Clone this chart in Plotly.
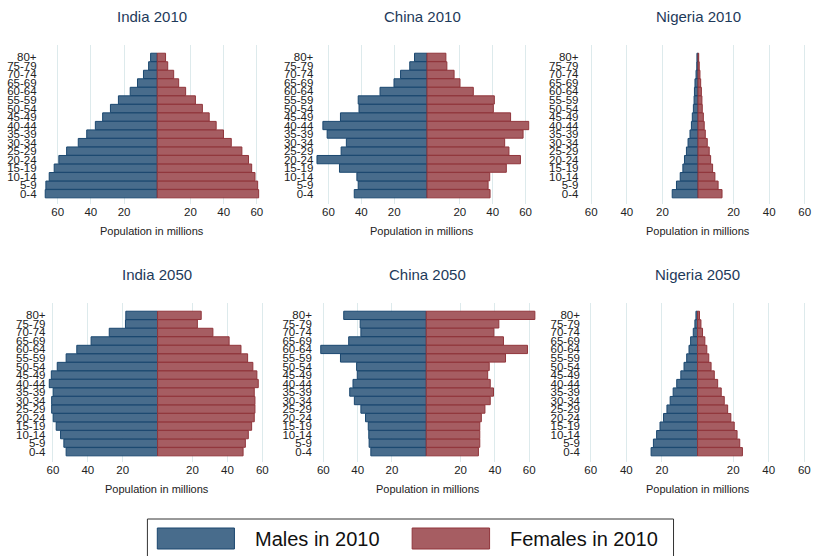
import plotly.graph_objects as go

# ---------------- data (millions) ----------------
age_groups = ["0-4", "5-9", "10-14", "15-19", "20-24", "25-29", "30-34", "35-39",
              "40-44", "45-49", "50-54", "55-59", "60-64", "65-69", "70-74", "75-79", "80+"]

india_2010_male = [67.5, 67.1, 65.1, 62.1, 59.3, 54.6, 47.6, 42.5, 37.3, 32.9, 28.2, 23.4, 16.3, 11.9, 8.3, 5.2, 4.0]
india_2010_female = [61.1, 60.5, 58.9, 56.9, 55.0, 51.0, 44.6, 39.9, 35.5, 31.3, 27.2, 23.0, 17.1, 12.9, 9.9, 6.3, 5.0]

china_2010_male = [44.3, 41.9, 42.7, 53.3, 67.0, 52.3, 49.1, 60.8, 63.4, 52.7, 41.4, 41.9, 28.6, 20.1, 16.1, 10.5, 7.6]
china_2010_female = [38.4, 37.2, 38.2, 48.3, 56.9, 49.9, 47.3, 58.5, 62.0, 50.9, 40.4, 41.0, 28.2, 20.1, 16.5, 12.1, 11.5]

nigeria_2010_male = [14.5, 12.1, 10.0, 8.5, 7.6, 6.5, 5.6, 4.5, 3.7, 3.2, 2.6, 2.2, 2.0, 1.7, 1.1, 0.7, 0.6]
nigeria_2010_female = [13.5, 11.3, 9.5, 8.2, 7.1, 6.3, 5.2, 4.1, 3.5, 3.0, 2.4, 2.2, 1.9, 1.5, 1.1, 0.7, 0.4]

india_2050_male = [52.4, 53.7, 55.6, 58.1, 59.8, 60.7, 60.7, 59.8, 62.2, 60.9, 57.5, 52.4, 46.3, 38.1, 27.7, 18.4, 18.2]
india_2050_female = [49.0, 50.3, 52.0, 53.9, 55.4, 55.8, 55.8, 55.4, 57.7, 56.9, 54.6, 51.6, 47.8, 41.0, 31.7, 22.8, 25.0]

china_2050_male = [32.3, 33.3, 33.5, 33.8, 35.4, 38.1, 41.9, 44.6, 42.7, 40.2, 40.6, 50.0, 61.5, 45.2, 38.1, 38.5, 48.1]
china_2050_female = [30.4, 31.2, 31.2, 31.2, 32.1, 34.2, 37.3, 39.2, 37.3, 35.8, 36.7, 46.2, 59.0, 45.0, 39.4, 42.3, 63.3]

nigeria_2050_male = [26.1, 24.8, 23.0, 21.1, 19.1, 17.2, 15.4, 13.7, 11.7, 9.4, 7.6, 6.1, 4.8, 3.9, 2.4, 1.5, 0.9]
nigeria_2050_female = [25.2, 23.7, 22.2, 20.6, 18.7, 16.9, 15.0, 13.3, 11.3, 9.4, 7.6, 6.3, 5.2, 4.1, 2.8, 1.9, 1.1]

panel_titles = ["India 2010", "China 2010", "Nigeria 2010", "India 2050", "China 2050", "Nigeria 2050"]
x_tick_values = [-60, -40, -20, 20, 40, 60]
x_tick_labels = ["60", "40", "20", "20", "40", "60"]
x_axis_title = "Population in millions"
legend_labels = ["Males in 2010", "Females in 2010"]

# ---------------- styling / layout ----------------
W, H = 814, 556
MALE_FILL, MALE_LINE = "#486C8C", "#1A476F"
FEMALE_FILL, FEMALE_LINE = "#A65D62", "#90353B"
GRID = "#DDEAEC"
TITLE_COLOR = "#1E3A5A"
FONT = "Liberation Sans, Arial, sans-serif"


def fx(px):
    return px / W


def fy(py):
    return 1 - py / H


male_data = [india_2010_male, china_2010_male, nigeria_2010_male,
             india_2050_male, china_2050_male, nigeria_2050_male]
female_data = [india_2010_female, china_2010_female, nigeria_2010_female,
               india_2050_female, china_2050_female, nigeria_2050_female]

# pixel plot areas: (x0, x1), x-range, row, y-label standoff
panel_px = [((39, 258), (-68.5, 62), 0, 6),
            ((313.8, 530.5), (-68, 62.5), 0, 1),
            ((591, 810.5), (-61, 61), 0, 10),
            ((44, 262.8), (-62.5, 61.5), 1, 2),
            ((318.4, 537), (-62, 64), 1, 7),
            ((590.5, 810.1), (-61, 61), 1, 8)]
row_py = [(45, 203.5), (303, 461.5)]

fig = go.Figure()
annotations = []
layout_axes = {}

for i, ((x0, x1), xr, row, ystand) in enumerate(panel_px):
    n = "" if i == 0 else str(i + 1)
    xa, ya = "x" + n, "y" + n
    fig.add_trace(go.Bar(
        y=age_groups, x=[-v for v in male_data[i]], orientation="h",
        name=legend_labels[0], xaxis=xa, yaxis=ya, showlegend=False,
        marker=dict(color=MALE_FILL, line=dict(color=MALE_LINE, width=1)),
    ))
    fig.add_trace(go.Bar(
        y=age_groups, x=female_data[i], orientation="h",
        name=legend_labels[1], xaxis=xa, yaxis=ya, showlegend=False,
        marker=dict(color=FEMALE_FILL, line=dict(color=FEMALE_LINE, width=1)),
    ))
    py0, py1 = row_py[row]
    layout_axes["xaxis" + n] = dict(
        domain=[fx(x0), fx(x1)], range=list(xr), anchor=ya,
        tickmode="array", tickvals=x_tick_values, ticktext=x_tick_labels,
        showgrid=True, gridcolor=GRID, gridwidth=1, zeroline=False,
        showline=False, ticks="", tickfont=dict(size=11.5, color="#222", family=FONT),
        fixedrange=True,
    )
    layout_axes["yaxis" + n] = dict(
        domain=[fy(py1), fy(py0)], anchor=xa, type="category",
        tickmode="array", tickvals=age_groups, ticktext=age_groups,
        range=[-1.15, 17.45], showgrid=False, zeroline=False, showline=False,
        ticks="", tickfont=dict(size=11.5, color="#222", family=FONT),
        ticklabelstandoff=ystand, fixedrange=True,
    )
    cx = fx((x0 + x1) / 2)
    annotations.append(dict(text=panel_titles[i], x=cx, y=fy(py0 - 28.5), xref="paper", yref="paper",
                            xanchor="center", yanchor="middle", showarrow=False,
                            font=dict(size=15, color=TITLE_COLOR, family=FONT)))
    annotations.append(dict(text=x_axis_title, x=cx, y=fy(py1 + 27.5), xref="paper", yref="paper",
                            xanchor="center", yanchor="middle", showarrow=False,
                            font=dict(size=11, color="#222", family=FONT)))

# legend drawn as box + swatches + text
shapes = [
    dict(type="rect", xref="paper", yref="paper", x0=fx(144), x1=fx(676), y0=fy(570), y1=fy(519),
         line=dict(color="#333", width=1), fillcolor="white", layer="below"),
    dict(type="rect", xref="paper", yref="paper", x0=fx(154), x1=fx(232), y0=fy(549), y1=fy(528),
         line=dict(color=MALE_LINE, width=1), fillcolor=MALE_FILL),
    dict(type="rect", xref="paper", yref="paper", x0=fx(411.7), x1=fx(490), y0=fy(549), y1=fy(528),
         line=dict(color=FEMALE_LINE, width=1), fillcolor=FEMALE_FILL),
]
annotations.append(dict(text=legend_labels[0], x=fx(250.5), y=fy(539), xref="paper", yref="paper",
                        xanchor="left", yanchor="middle", showarrow=False,
                        font=dict(size=20, color="#111", family=FONT)))
annotations.append(dict(text=legend_labels[1], x=fx(509), y=fy(539), xref="paper", yref="paper",
                        xanchor="left", yanchor="middle", showarrow=False,
                        font=dict(size=20, color="#111", family=FONT)))

fig.update_layout(
    width=W, height=H, margin=dict(l=0, r=0, t=0, b=0),
    paper_bgcolor="white", plot_bgcolor="white",
    barmode="overlay", bargap=0.03, showlegend=False,
    annotations=annotations, shapes=shapes,
    font=dict(family=FONT),
    **layout_axes,
)

fig.write_html("out.html", config={"displayModeBar": False},
               post_script="document.body.style.margin='0';")
